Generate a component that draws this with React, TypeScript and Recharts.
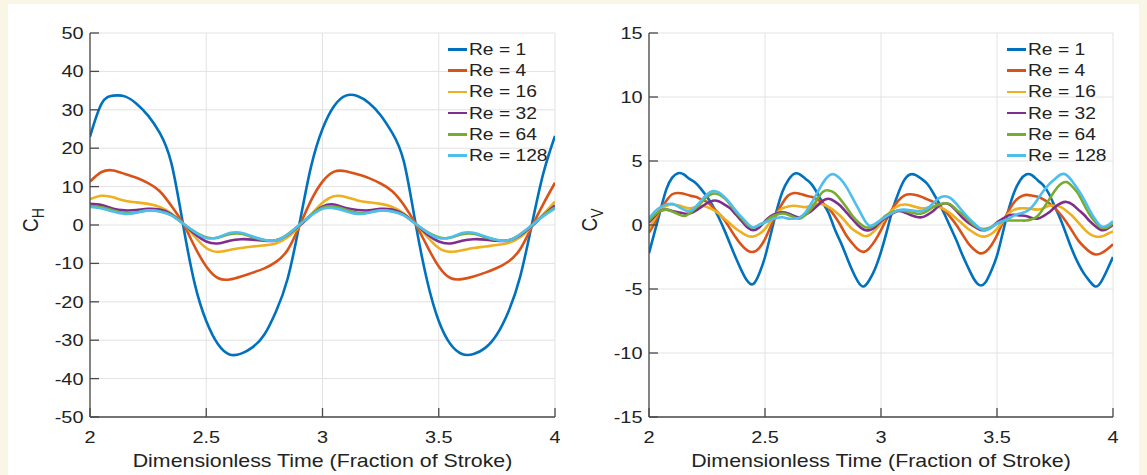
import React from "react";
import { LineChart, Line, XAxis, YAxis, CartesianGrid, Legend } from "recharts";

const FONT = '"Liberation Sans", Arial, Helvetica, sans-serif';
const TEXT = "#222222";
const AXIS = "#4a4a4a";
const GRID = "#e2e2e2";
const TICK_LEN = 9;
const STRETCH = 1.17;

const RE_LABELS = ["Re = 1", "Re = 4", "Re = 16", "Re = 32", "Re = 64", "Re = 128"];
const RE_KEYS = ["re1", "re4", "re16", "re32", "re64", "re128"];
const RE_COLORS = ["#0072BD", "#D95319", "#EDB120", "#7E2F8E", "#77AC30", "#4DBEEE"];

const X_TICKS = [2, 2.5, 3, 3.5, 4];
const CH_TICKS = [-50, -40, -30, -20, -10, 0, 10, 20, 30, 40, 50];
const CV_TICKS = [-15, -10, -5, 0, 5, 10, 15];

// horizontal force coefficient, sampled every 0.05 stroke
const timeH = [
  2, 2.05, 2.1, 2.15, 2.2, 2.25, 2.3, 2.35, 2.4, 2.45,
  2.5, 2.55, 2.6, 2.65, 2.7, 2.75, 2.8, 2.85, 2.9, 2.95,
  3, 3.05, 3.1, 3.15, 3.2, 3.25, 3.3, 3.35, 3.4, 3.45,
  3.5, 3.55, 3.6, 3.65, 3.7, 3.75, 3.8, 3.85, 3.9, 3.95,
  4,
];
const chRe1 = [
  23.0, 31.6, 33.7, 33.5, 31.6, 28.5, 24.0, 16.1, 0.2, -15.2,
  -25.0, -31.0, -33.7, -33.5, -31.8, -28.5, -22.5, -14.0, 0.0, 15.0,
  25.0, 31.0, 33.7, 33.6, 31.8, 28.6, 24.0, 16.5, 0.5, -14.5,
  -25.0, -31.0, -33.6, -33.6, -32.0, -28.5, -22.5, -13.5, 0.0, 13.5,
  23.2,
];
const chRe4 = [
  11.3, 13.8, 14.2, 13.3, 12.3, 10.9, 8.8, 5.0, 0.4, -5.6,
  -10.8, -13.8, -14.2, -13.4, -12.4, -11.3, -9.6, -6.5, -0.4, 6.3,
  11.3, 13.9, 14.0, 13.2, 12.2, 10.8, 8.8, 5.2, 0.3, -5.5,
  -10.8, -13.8, -14.1, -13.4, -12.4, -11.2, -9.5, -6.3, -0.5, 5.5,
  11.0,
];
const chRe16 = [
  6.7, 7.6, 7.2, 6.3, 5.9, 5.5, 4.7, 3.0, 0.4, -3.0,
  -6.0, -7.0, -6.5, -6.0, -5.6, -5.3, -4.8, -3.2, -0.4, 2.7,
  5.8, 7.5, 7.3, 6.4, 5.9, 5.5, 4.7, 3.0, 0.3, -3.0,
  -6.0, -7.0, -6.6, -6.0, -5.6, -5.2, -4.7, -3.2, -0.4, 2.8,
  6.1,
];
const chRe32 = [
  5.5, 5.2, 4.2, 3.8, 3.9, 4.2, 4.0, 2.8, 0.4, -2.3,
  -4.3, -4.8, -4.1, -3.7, -3.8, -4.1, -4.0, -2.6, -0.2, 2.5,
  4.8, 5.3, 4.4, 3.9, 3.8, 4.2, 4.0, 2.8, 0.3, -2.4,
  -4.3, -4.8, -4.1, -3.7, -3.8, -4.1, -4.0, -2.7, -0.3, 2.5,
  5.1,
];
const chRe64 = [
  5.0, 4.6, 3.8, 3.1, 3.3, 3.8, 3.6, 2.6, 0.4, -1.7,
  -3.2, -3.3, -2.4, -2.3, -3.2, -3.9, -4.0, -2.4, 0.0, 2.6,
  4.5, 4.8, 4.0, 3.2, 3.3, 3.8, 3.6, 2.6, 0.3, -1.8,
  -3.2, -3.3, -2.4, -2.3, -3.2, -3.9, -4.0, -2.4, -0.1, 2.5,
  4.6,
];
const chRe128 = [
  4.7, 4.3, 3.5, 2.9, 3.2, 3.8, 3.5, 2.5, 0.4, -1.8,
  -3.4, -3.2, -2.1, -2.0, -3.0, -3.9, -4.0, -2.5, 0.0, 2.4,
  4.2, 4.4, 3.6, 2.9, 3.2, 3.8, 3.5, 2.5, 0.3, -1.9,
  -3.4, -3.2, -2.1, -2.0, -3.0, -3.9, -4.0, -2.5, -0.1, 2.3,
  4.3,
];

// vertical force coefficient, sampled every 0.025 stroke
const timeV = [
  2, 2.025, 2.05, 2.075, 2.1, 2.125, 2.15, 2.175, 2.2, 2.225,
  2.25, 2.275, 2.3, 2.325, 2.35, 2.375, 2.4, 2.425, 2.45, 2.475,
  2.5, 2.525, 2.55, 2.575, 2.6, 2.625, 2.65, 2.675, 2.7, 2.725,
  2.75, 2.775, 2.8, 2.825, 2.85, 2.875, 2.9, 2.925, 2.95, 2.975,
  3, 3.025, 3.05, 3.075, 3.1, 3.125, 3.15, 3.175, 3.2, 3.225,
  3.25, 3.275, 3.3, 3.325, 3.35, 3.375, 3.4, 3.425, 3.45, 3.475,
  3.5, 3.525, 3.55, 3.575, 3.6, 3.625, 3.65, 3.675, 3.7, 3.725,
  3.75, 3.775, 3.8, 3.825, 3.85, 3.875, 3.9, 3.925, 3.95, 3.975,
  4,
];
const cvRe1 = [
  -2.2, -0.5, 1.2, 2.8, 3.7, 4.05, 3.95, 3.6, 3.3, 2.8,
  2.2, 1.5, 0.6, -0.4, -1.5, -2.6, -3.6, -4.4, -4.6, -3.8,
  -2.5, -0.7, 1.1, 2.6, 3.5, 4.0, 3.95, 3.6, 3.2, 2.5,
  1.7, 0.9, -0.3, -1.3, -2.4, -3.5, -4.4, -4.8, -4.3, -3.4,
  -2.1, -0.5, 1.2, 2.5, 3.5, 3.95, 3.9, 3.6, 3.2, 2.5,
  1.7, 0.8, -0.2, -1.2, -2.3, -3.3, -4.2, -4.7, -4.5, -3.6,
  -2.4, -0.6, 1.2, 2.6, 3.5, 3.95, 3.9, 3.5, 3.1, 2.4,
  1.4, 0.4, -0.8, -2.0, -3.0, -3.8, -4.4, -4.8, -4.4, -3.5,
  -2.5,
];
const cvRe4 = [
  -0.6, 0.2, 1.2, 1.9, 2.4, 2.5, 2.45, 2.3, 2.2, 2.0,
  1.8, 1.4, 0.9, 0.4, -0.3, -1.0, -1.6, -2.0, -2.1, -1.8,
  -1.1, -0.1, 0.9, 1.7, 2.3, 2.5, 2.45, 2.3, 2.2, 2.0,
  1.7, 1.3, 0.7, 0.0, -0.8, -1.4, -1.9, -2.1, -1.8, -1.2,
  -0.4, 0.5, 1.3, 1.9, 2.3, 2.4, 2.35, 2.2, 2.0, 1.8,
  1.5, 1.1, 0.6, 0.0, -0.7, -1.4, -1.9, -2.2, -2.1, -1.6,
  -0.8, 0.2, 1.1, 1.8, 2.2, 2.35, 2.3, 2.2, 2.0, 1.7,
  1.3, 0.8, 0.2, -0.5, -1.2, -1.7, -2.1, -2.3, -2.2, -1.9,
  -1.5,
];
const cvRe16 = [
  -0.3, 0.5, 1.2, 1.5, 1.6, 1.55, 1.4, 1.3, 1.4, 1.5,
  1.4, 1.2, 0.9, 0.5, 0.1, -0.3, -0.6, -0.85, -0.9, -0.7,
  -0.3, 0.3, 0.9, 1.3, 1.45, 1.5, 1.45, 1.4, 1.5, 1.65,
  1.6, 1.4, 1.1, 0.7, 0.2, -0.3, -0.6, -0.85, -0.8, -0.4,
  0.1, 0.7, 1.2, 1.5, 1.6, 1.55, 1.4, 1.3, 1.35, 1.45,
  1.4, 1.2, 0.9, 0.5, 0.1, -0.3, -0.6, -0.85, -0.9, -0.7,
  -0.3, 0.3, 0.9, 1.2, 1.3, 1.3, 1.25, 1.2, 1.3, 1.5,
  1.5, 1.4, 1.1, 0.7, 0.2, -0.3, -0.7, -0.9, -0.9, -0.7,
  -0.5,
];
const cvRe32 = [
  0.2, 0.7, 1.1, 1.2, 1.1, 1.0, 0.9, 0.9, 1.1, 1.4,
  1.7, 1.9, 1.85, 1.6, 1.3, 0.8, 0.3, -0.2, -0.4, -0.2,
  0.3, 0.7, 0.9, 1.0, 0.9, 0.7, 0.6, 0.8, 1.1, 1.5,
  1.9, 2.05, 1.85, 1.5, 1.0, 0.5, 0.0, -0.35, -0.4, -0.15,
  0.3, 0.6, 0.9, 1.1, 1.0, 0.8, 0.65, 0.6, 0.8, 1.1,
  1.5, 1.7, 1.55, 1.1, 0.6, 0.2, -0.1, -0.35, -0.4, -0.2,
  0.2, 0.5, 0.75, 0.8, 0.75, 0.7, 0.55, 0.5, 0.7, 1.0,
  1.4, 1.7, 1.8, 1.6, 1.2, 0.8, 0.3, -0.1, -0.4, -0.3,
  0.0,
];
const cvRe64 = [
  0.35, 0.8, 1.1, 1.2, 1.05, 0.85, 0.7, 0.9, 1.3, 1.75,
  2.2, 2.45, 2.4, 2.1, 1.6, 1.0, 0.5, 0.0, -0.2, 0.0,
  0.25, 0.6, 0.8, 0.9, 0.8, 0.6, 0.5, 0.8, 1.3, 2.0,
  2.6, 2.7, 2.5, 2.0, 1.4, 0.75, 0.25, -0.1, -0.2, 0.0,
  0.4, 0.8, 1.0, 1.15, 1.1, 1.0, 0.9, 0.9, 1.1, 1.4,
  1.6, 1.7, 1.6, 1.2, 0.85, 0.4, 0.0, -0.25, -0.3, -0.15,
  0.1, 0.3, 0.35, 0.35, 0.35, 0.35, 0.45, 0.7, 1.3, 2.0,
  2.7, 3.2, 3.35, 3.0, 2.45, 1.6, 0.8, 0.2, -0.2, -0.2,
  0.1,
];
const cvRe128 = [
  0.5, 1.05, 1.4, 1.6, 1.65, 1.45, 1.2, 1.1, 1.4, 1.9,
  2.4, 2.65, 2.55, 2.2, 1.7, 1.1, 0.6, 0.1, -0.2, 0.0,
  0.2, 0.4, 0.55, 0.6, 0.5, 0.5, 0.6, 1.0, 1.7, 2.5,
  3.3, 3.85, 3.95, 3.6, 3.0, 2.2, 1.35, 0.5, -0.05, 0.1,
  0.4, 0.7, 0.95, 1.15, 1.2, 1.15, 1.1, 1.1, 1.3, 1.7,
  2.1, 2.25, 2.1, 1.65, 1.1, 0.6, 0.15, -0.25, -0.4, -0.2,
  0.1, 0.3, 0.5, 0.75, 0.9, 1.05, 1.4, 2.0, 2.65, 3.2,
  3.6, 3.95, 3.9, 3.4, 2.75, 2.0, 1.15, 0.4, -0.1, -0.05,
  0.3,
];

function buildRows(times: number[], series: number[][]) {
  return times.map((t, i) => {
    const row: Record<string, number> = { t };
    RE_KEYS.forEach((k, j) => {
      row[k] = series[j][i];
    });
    return row;
  });
}

const chRows = buildRows(timeH, [chRe1, chRe4, chRe16, chRe32, chRe64, chRe128]);
const cvRows = buildRows(timeV, [cvRe1, cvRe4, cvRe16, cvRe32, cvRe64, cvRe128]);

function BottomTick({ x, y, payload }: any) {
  return (
    <g>
      <line x1={x} x2={x} y1={y} y2={y - TICK_LEN} stroke={AXIS} strokeWidth={1.3} />
      <text
        transform={`translate(${x},${y + 26}) scale(${STRETCH},1)`}
        textAnchor="middle"
        fontFamily={FONT}
        fontSize={17}
        fill={TEXT}
      >
        {payload.value}
      </text>
    </g>
  );
}

function TopTick({ x, y }: any) {
  return <line x1={x} x2={x} y1={y} y2={y + TICK_LEN} stroke={AXIS} strokeWidth={1.3} />;
}

function LeftTick({ x, y, payload }: any) {
  return (
    <g>
      <line x1={x} x2={x + TICK_LEN} y1={y} y2={y} stroke={AXIS} strokeWidth={1.3} />
      <text
        transform={`translate(${x - 6.5},${y + 6}) scale(${STRETCH},1)`}
        textAnchor="end"
        fontFamily={FONT}
        fontSize={17}
        fill={TEXT}
      >
        {payload.value}
      </text>
    </g>
  );
}

function RightTick({ x, y }: any) {
  return <line x1={x} x2={x - TICK_LEN} y1={y} y2={y} stroke={AXIS} strokeWidth={1.3} />;
}

function XTitle({ cx }: { cx: number }) {
  return (
    <text
      transform={`translate(${cx},467) scale(1.22,1)`}
      textAnchor="middle"
      fontFamily={FONT}
      fontSize={17.5}
      fill={TEXT}
    >
      Dimensionless Time (Fraction of Stroke)
    </text>
  );
}

function YTitle({ cx, cy, sub }: { cx: number; cy: number; sub: string }) {
  return (
    <text
      transform={`translate(${cx},${cy}) rotate(-90) scale(1,1.2)`}
      textAnchor="middle"
      fontFamily={FONT}
      fontSize={19}
      fill={TEXT}
    >
      C
      <tspan fontSize={14} dy={5}>
        {sub}
      </tspan>
    </text>
  );
}

function LegendBox({ payload }: any) {
  const entries = [...(payload || [])].sort(
    (a: any, b: any) => RE_LABELS.indexOf(a.value) - RE_LABELS.indexOf(b.value)
  );
  return (
    <div style={{ fontFamily: FONT, fontSize: 17, color: TEXT }}>
      {entries.map((entry: any) => (
        <div key={entry.value} style={{ height: 21.2, display: "flex", alignItems: "center" }}>
          <span
            style={{ display: "inline-block", width: 19, height: 2.6, background: entry.color }}
          />
          <span
            style={{
              display: "inline-block",
              marginLeft: 1.5,
              lineHeight: 1,
              whiteSpace: "nowrap",
              transform: "scaleX(1.13)",
              transformOrigin: "left center",
            }}
          >
            {entry.value}
          </span>
        </div>
      ))}
    </div>
  );
}

interface PanelProps {
  rows: Record<string, number>[];
  yTicks: number[];
  sub: string;
  width: number;
  marginRight: number;
  yAxisWidth: number;
}

function Panel({ rows, yTicks, sub, width, marginRight, yAxisWidth }: PanelProps) {
  const plotRight = width - marginRight;
  const mid = (yAxisWidth + plotRight) / 2;
  const axisLine = { stroke: AXIS, strokeWidth: 1.3 };
  return (
    <LineChart
      width={width}
      height={475}
      data={rows}
      margin={{ top: 33, right: marginRight, bottom: 0, left: 0 }}
    >
      <CartesianGrid xAxisId="bottom" yAxisId="left" stroke={GRID} strokeWidth={1} />
      <XAxis
        xAxisId="bottom"
        dataKey="t"
        type="number"
        domain={[2, 4]}
        ticks={X_TICKS}
        interval={0}
        allowDataOverflow
        height={58}
        tickSize={0}
        tickMargin={0}
        tickLine={false}
        axisLine={axisLine}
        tick={BottomTick}
        label={() => <XTitle cx={mid} />}
      />
      <XAxis
        xAxisId="top"
        orientation="top"
        type="number"
        domain={[2, 4]}
        ticks={X_TICKS}
        interval={0}
        allowDataOverflow
        height={0}
        tickSize={0}
        tickMargin={0}
        tickLine={false}
        axisLine={axisLine}
        tick={TopTick}
      />
      <YAxis
        yAxisId="left"
        type="number"
        domain={[yTicks[0], yTicks[yTicks.length - 1]]}
        ticks={yTicks}
        interval={0}
        allowDataOverflow
        width={yAxisWidth}
        tickSize={0}
        tickMargin={0}
        tickLine={false}
        axisLine={axisLine}
        tick={LeftTick}
        label={() => <YTitle cx={yAxisWidth - 52} cy={220} sub={sub} />}
      />
      <YAxis
        yAxisId="right"
        orientation="right"
        type="number"
        domain={[yTicks[0], yTicks[yTicks.length - 1]]}
        ticks={yTicks}
        interval={0}
        allowDataOverflow
        width={0}
        tickSize={0}
        tickMargin={0}
        tickLine={false}
        axisLine={axisLine}
        tick={RightTick}
      />
      <Legend
        layout="vertical"
        align="center"
        verticalAlign="middle"
        wrapperStyle={{ left: yAxisWidth + 358, top: 39, width: "auto", height: "auto" }}
        content={LegendBox}
      />
      {RE_KEYS.map((k, i) => (
        <Line
          key={k}
          xAxisId="bottom"
          yAxisId="left"
          type="natural"
          dataKey={k}
          name={RE_LABELS[i]}
          stroke={RE_COLORS[i]}
          strokeWidth={2.6}
          dot={false}
          activeDot={false}
          isAnimationActive={false}
        />
      ))}
    </LineChart>
  );
}

export default function App() {
  return (
    <div style={{ position: "relative", width: 1147, height: 475, background: "#faf6e6", overflow: "hidden" }}>
      <style>{"body{margin:0;background:#faf6e6}"}</style>
      <div style={{ position: "absolute", left: 8, top: 4, width: 1131, height: 471, background: "#ffffff" }} />
      <div style={{ position: "absolute", left: 0, top: 0 }}>
        <Panel rows={chRows} yTicks={CH_TICKS} sub="H" width={560} marginRight={5} yAxisWidth={90} />
      </div>
      <div style={{ position: "absolute", left: 560, top: 0 }}>
        <Panel rows={cvRows} yTicks={CV_TICKS} sub="V" width={587} marginRight={34} yAxisWidth={89} />
      </div>
    </div>
  );
}
